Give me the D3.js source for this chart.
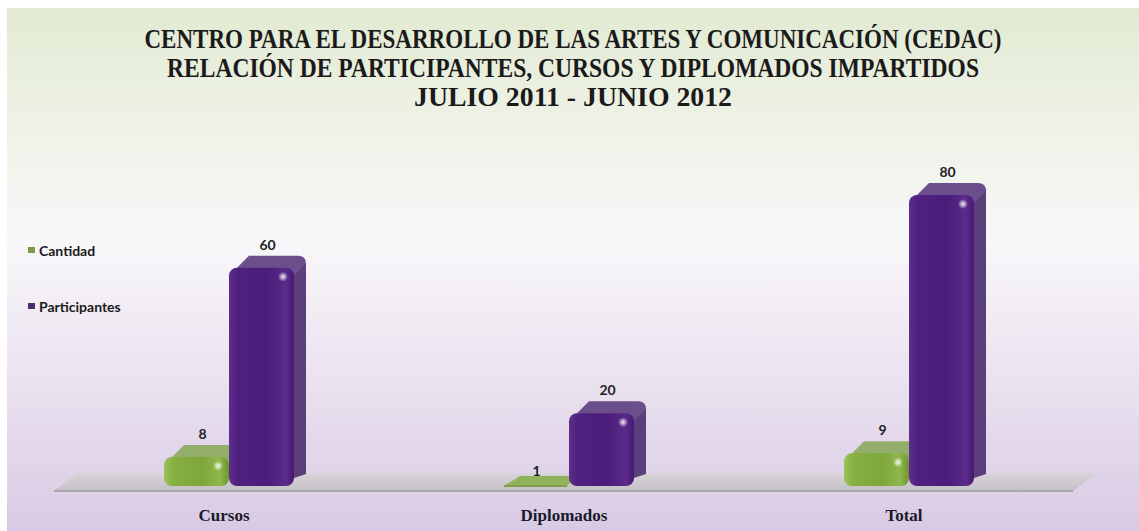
<!DOCTYPE html>
<html><head><meta charset="utf-8">
<script src="https://cdn.jsdelivr.net/npm/d3@7"></script>
<style>html,body{margin:0;padding:0;background:#fff;}svg{display:block;}</style>
</head><body><div id="chart"></div>
<script>
const titleLines = ["CENTRO PARA EL DESARROLLO DE LAS ARTES Y COMUNICACIÓN (CEDAC)",
  "RELACIÓN DE PARTICIPANTES, CURSOS Y DIPLOMADOS IMPARTIDOS",
  "JULIO 2011 - JUNIO 2012"];
const categories = ["Cursos", "Diplomados", "Total"];
const seriesNames = ["Cantidad", "Participantes"];
const cantidad = [8, 1, 9];
const participantes = [60, 20, 80];

const W = 1139, H = 531;
const svg = d3.select("#chart").append("svg").attr("width", W).attr("height", H);
const defs = svg.append("defs");

const bg = defs.append("linearGradient").attr("id","bg").attr("x1",0).attr("y1",0).attr("x2",0).attr("y2",1);
[[0,"#e2ead2"],[0.22,"#eef2e6"],[0.45,"#f8f7f9"],[0.7,"#ebe3f0"],[1,"#d8cae4"]].forEach(s=>bg.append("stop").attr("offset",s[0]).attr("stop-color",s[1]));
svg.append("rect").attr("x",7).attr("y",8).attr("width",W-7).attr("height",H-8).attr("fill","url(#bg)");

function hgrad(id, stops){
  const g = defs.append("linearGradient").attr("id",id).attr("x1",0).attr("y1",0).attr("x2",1).attr("y2",0);
  stops.forEach(s=>g.append("stop").attr("offset",s[0]).attr("stop-color",s[1]));
}
hgrad("gFront", [[0,"#9cc25a"],[0.15,"#86b040"],[0.6,"#7ea63a"],[0.85,"#8fb84c"],[1,"#6f9432"]]);
hgrad("pFront", [[0,"#5e2e8e"],[0.12,"#51217f"],[0.6,"#4c1c7a"],[0.88,"#5b2b8a"],[1,"#461872"]]);
const vg = defs.append("linearGradient").attr("id","floorG").attr("x1",0).attr("y1",0).attr("x2",0).attr("y2",1);
vg.append("stop").attr("offset",0).attr("stop-color","#d8d4da");
vg.append("stop").attr("offset",1).attr("stop-color","#c4c1c6");
const rg = defs.append("radialGradient").attr("id","hl");
rg.append("stop").attr("offset",0).attr("stop-color","#ffffff").attr("stop-opacity",0.95);
rg.append("stop").attr("offset",1).attr("stop-color","#ffffff").attr("stop-opacity",0);

// title
const title = svg.append("g");
const tLens = [857, 812, 318];
titleLines.forEach((t,i)=>{
  title.append("g").attr("transform", `translate(573,${48+i*29}) scale(1,1.17)`)
    .append("text").attr("x",0).attr("y",0).attr("text-anchor","middle")
    .attr("font-family","Liberation Serif, serif").attr("font-weight","bold").attr("font-size",23)
    .attr("fill","#1a1a1a").attr("textLength",tLens[i]).attr("lengthAdjust","spacingAndGlyphs").text(t);
});

// scales
const x = d3.scaleBand().domain(categories).range([54, 1074]);
const xs = d3.scaleBand().domain(seriesNames).range([-60, 70]);
const y = d3.scaleLinear().domain([0, 80]).range([486, 195]);

// floor
const floor = svg.append("g");
floor.append("path").attr("d", `M${54},${491} L${1073},${491} L${1097},${473} L${78},${473} Z`).attr("fill","url(#floorG)");
floor.append("path").attr("d", `M${54},${491} L${1073},${491}`).attr("stroke","#9e99a2").attr("stroke-width",1.5);

const dx = 12, dy = -12;
const colors = {
  Cantidad: {front:"url(#gFront)", side:"#6e8f3c", top:"#93ad6a", legend:"#7d9a4a"},
  Participantes: {front:"url(#pFront)", side:"#5b3f7c", top:"#6b4f8c", legend:"#4a2f6b"}
};
const data = [];
categories.forEach((c,i)=>{
  data.push({cat:c, s:"Cantidad", v:cantidad[i]});
  data.push({cat:c, s:"Participantes", v:participantes[i]});
});

const bars = svg.append("g");
data.forEach(d=>{
  const x0 = x(d.cat) + x.bandwidth()/2 + xs(d.s);
  const w = xs.bandwidth();
  const yt = y(d.v), yb = y(0);
  const c = colors[d.s];
  const g = bars.append("g");
  const h = yb - yt;
  if (h < 8) {
    g.append("path").attr("d", `M${x0},${yb} L${x0+w-2},${yb} L${x0+w+dx-4},${yb+dy+2} L${x0+dx+4},${yb+dy+2} Z`)
      .attr("fill","#8fb25a");
    g.append("path").attr("d", `M${x0},${yb} L${x0+w-2},${yb}`).attr("stroke","#7ea04a").attr("stroke-width",2);
  } else {
    const r = Math.min(8, h/2);
    g.append("path").attr("d", `M${x0+w-r},${yt} L${x0+w-r+dx},${yt+dy} L${x0+w+dx},${yt+dy+r} L${x0+w+dx},${yb+dy} L${x0+w},${yb-r} Z`)
      .attr("fill", c.side);
    g.append("path").attr("d", `M${x0+r},${yt} L${x0+r+dx},${yt+dy} L${x0+w-r+dx},${yt+dy} Q${x0+w+dx},${yt+dy} ${x0+w+dx},${yt+dy+r} L${x0+w},${yt+r} Z`)
      .attr("fill", c.top);
    g.append("rect").attr("x",x0).attr("y",yt).attr("width",w).attr("height",h).attr("rx",r).attr("ry",r).attr("fill",c.front);
    g.append("ellipse").attr("cx",x0+w-11).attr("cy",yt+9).attr("rx",5).attr("ry",5).attr("fill","url(#hl)");
  }
  svg.append("text").attr("x", x0 + w/2 + (h<8?0:dx/2)).attr("y", (h<8? yb-10 : yt+dy-6))
    .attr("text-anchor","middle").attr("font-family","Lato, sans-serif").attr("font-weight","bold")
    .attr("font-size",14).attr("fill","#222").text(d.v);
});

// category labels
svg.append("g").selectAll("text").data(categories).join("text")
  .attr("x", d=>x(d)+x.bandwidth()/2).attr("y", 521).attr("text-anchor","middle")
  .attr("font-family","Liberation Serif, serif").attr("font-weight","bold").attr("font-size",17)
  .attr("fill","#1a1a2a").text(d=>d);

// legend
const leg = svg.append("g");
seriesNames.forEach((s,i)=>{
  const yy = 252 + i*56;
  leg.append("rect").attr("x",28).attr("y",yy-5).attr("width",7).attr("height",6).attr("fill",colors[s].legend);
  leg.append("text").attr("x",39).attr("y",yy+4).attr("font-family","Lato, sans-serif").attr("font-weight","bold")
    .attr("font-size",14).attr("fill","#1a1a1a").text(s);
});
</script></body></html>
